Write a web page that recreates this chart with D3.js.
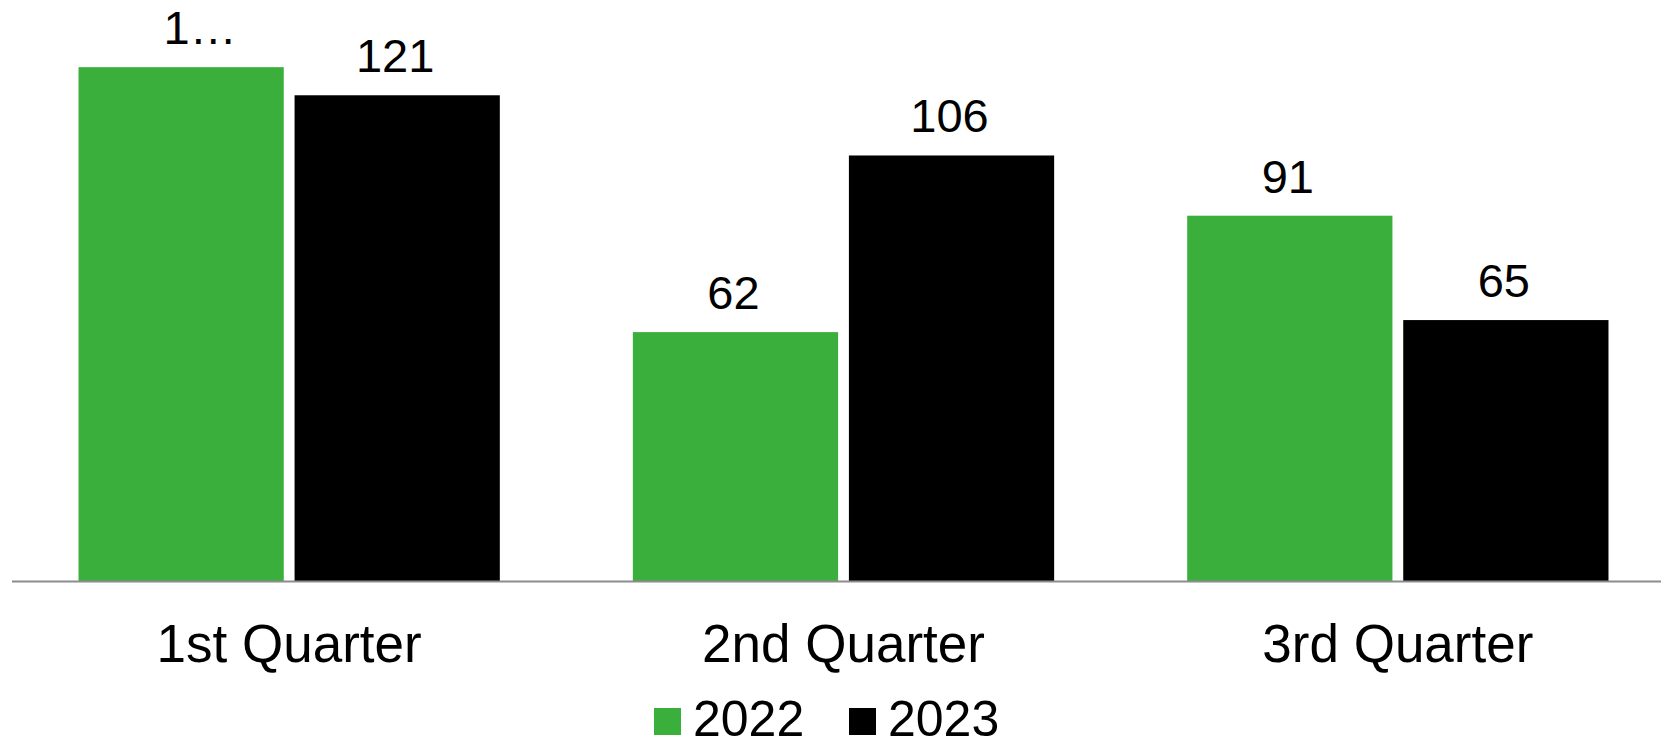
<!DOCTYPE html>
<html>
<head>
<meta charset="utf-8">
<script src="https://cdn.jsdelivr.net/npm/d3@7/dist/d3.min.js"></script>
<style>
  html, body { margin: 0; padding: 0; background: #ffffff; }
  svg { display: block; }
  text { font-family: "Liberation Sans", Arial, sans-serif; fill: #000; }
</style>
</head>
<body>
<svg id="chart" width="1661" height="747"></svg>
<script>
// Quarterly figures per year
const categories = ["1st Quarter", "2nd Quarter", "3rd Quarter"];
const years = ["2022", "2023"];
const values2022 = [128, 62, 91];
const values2023 = [121, 106, 65];
// Data label texts (the first one is clipped by its narrow label box)
const labels2022 = ["1…", "62", "91"];
const labels2023 = ["121", "106", "65"];
const yearColors = ["#3BAF3B", "#000000"];

const svg = d3.select("#chart");

const baseline = 581;
const y = d3.scaleLinear().domain([0, 140]).range([baseline, 19]);

const x0 = d3.scaleBand()
  .domain(categories)
  .range([12, 1675])
  .paddingInner(0.24)
  .paddingOuter(0.12);

const x1 = d3.scaleBand()
  .domain(years)
  .range([0, x0.bandwidth()])
  .paddingInner(0.05);

const color = d3.scaleOrdinal().domain(years).range(yearColors);

const rows = categories.map((c, i) => ({
  category: c,
  bars: [
    { year: "2022", value: values2022[i], label: labels2022[i] },
    { year: "2023", value: values2023[i], label: labels2023[i] }
  ]
}));

const groups = svg.append("g").selectAll("g")
  .data(rows)
  .join("g")
  .attr("transform", d => `translate(${x0(d.category)},0)`);

groups.selectAll("rect")
  .data(d => d.bars)
  .join("rect")
  .attr("x", d => x1(d.year))
  .attr("y", d => y(d.value))
  .attr("width", x1.bandwidth())
  .attr("height", d => y(0) - y(d.value))
  .attr("fill", d => color(d.year));

groups.selectAll("text.value")
  .data(d => d.bars)
  .join("text")
  .attr("class", "value")
  .attr("x", d => x1(d.year) + x1.bandwidth() / 2 + (d.label.endsWith("…") ? 19 : -2))
  .attr("y", d => y(d.value) - 23)
  .attr("text-anchor", "middle")
  .style("font-size", "47px")
  .text(d => d.label);

// Category axis: baseline line plus labels, no ticks
const xAxis = d3.axisBottom(x0).tickSize(0).tickPadding(0);
const axisG = svg.append("g")
  .attr("transform", `translate(0,${baseline})`)
  .call(xAxis);
axisG.select(".domain")
  .attr("d", "M12,0.5H1675")
  .attr("stroke", "#8c8c8c")
  .attr("stroke-width", 2);
axisG.selectAll(".tick text")
  .attr("y", 81)
  .attr("dy", 0)
  .style("font-size", "53px")
  .style("font-family", "'Liberation Sans', Arial, sans-serif")
  .attr("fill", "#000");

// Legend
const legendItems = [
  { year: "2022", sx: 654, tx: 693 },
  { year: "2023", sx: 849, tx: 888 }
];
const legend = svg.append("g");
legend.selectAll("rect")
  .data(legendItems)
  .join("rect")
  .attr("x", d => d.sx)
  .attr("y", 708)
  .attr("width", 27)
  .attr("height", 27)
  .attr("fill", d => color(d.year));
legend.selectAll("text")
  .data(legendItems)
  .join("text")
  .attr("x", d => d.tx)
  .attr("y", 736)
  .style("font-size", "50px")
  .text(d => d.year);
</script>
</body>
</html>
